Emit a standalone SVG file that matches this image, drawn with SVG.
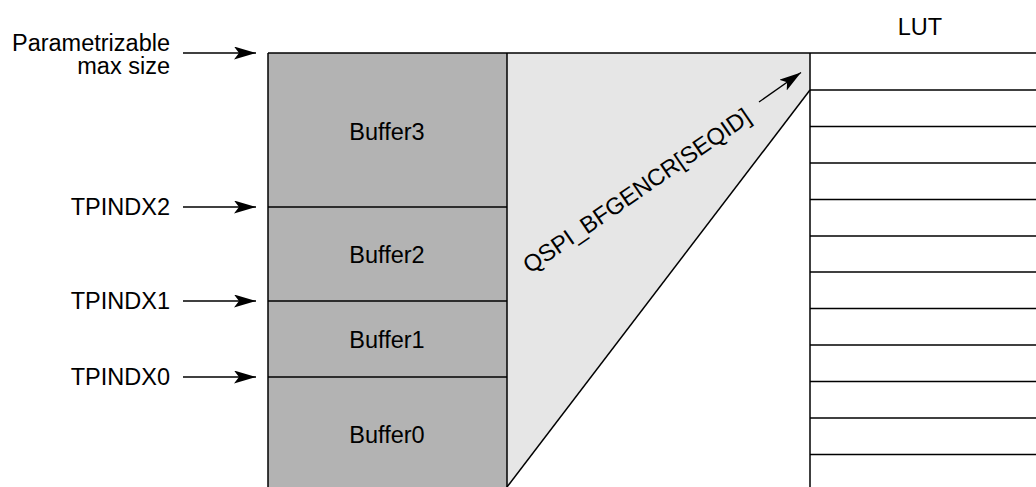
<svg xmlns="http://www.w3.org/2000/svg" width="1036" height="487" viewBox="0 0 1036 487">
<style>
text{font-family:"Liberation Sans",Arial,sans-serif;font-size:23.5px;fill:#000}
.ln{stroke:#000;stroke-width:1.5;fill:none}
.arr{stroke:#000;stroke-width:1.3;fill:none;marker-end:url(#ah)}
</style>
<defs>
<marker id="ah" markerUnits="userSpaceOnUse" markerWidth="24" markerHeight="14" refX="22" refY="6.5" orient="auto">
<path d="M0,0 L22,6.5 L0,13 L5,6.5 z" fill="#000"/>
</marker>
</defs>
<rect width="1036" height="487" fill="#fff"/>
<g id="lightregion">
<polygon points="507,53 810,53 810,90 507,487" fill="#e6e6e6"/>
</g>
<g id="buffer3"><rect x="268" y="53" width="239" height="154" fill="#b3b3b3"/><text x="387" y="139.5" text-anchor="middle">Buffer3</text></g>
<g id="buffer2"><rect x="268" y="207" width="239" height="94" fill="#b3b3b3"/><text x="387" y="262.5" text-anchor="middle">Buffer2</text></g>
<g id="buffer1"><rect x="268" y="301" width="239" height="76" fill="#b3b3b3"/><text x="387" y="347.5" text-anchor="middle">Buffer1</text></g>
<g id="buffer0"><rect x="268" y="377" width="239" height="112" fill="#b3b3b3"/><text x="387" y="443" text-anchor="middle">Buffer0</text></g>
<g id="frame">
<line class="ln" x1="268" y1="53" x2="1036" y2="53" stroke="#333"/>
<line class="ln" x1="268" y1="53" x2="268" y2="487"/>
<line class="ln" x1="507" y1="53" x2="507" y2="487"/>
<line class="ln" x1="268" y1="207" x2="507" y2="207"/>
<line class="ln" x1="268" y1="301" x2="507" y2="301"/>
<line class="ln" x1="268" y1="377" x2="507" y2="377"/>
<line class="ln" x1="810" y1="90" x2="507" y2="487" stroke-width="1.2"/>
</g>
<g id="lut">
<text x="920" y="35" text-anchor="middle">LUT</text>
<line class="ln" x1="810" y1="53" x2="810" y2="487"/>
<line class="ln" x1="810" y1="90" x2="1036" y2="90"/>
<line class="ln" x1="810" y1="126.5" x2="1036" y2="126.5"/>
<line class="ln" x1="810" y1="163" x2="1036" y2="163"/>
<line class="ln" x1="810" y1="199.5" x2="1036" y2="199.5"/>
<line class="ln" x1="810" y1="236" x2="1036" y2="236"/>
<line class="ln" x1="810" y1="272" x2="1036" y2="272"/>
<line class="ln" x1="810" y1="308.5" x2="1036" y2="308.5"/>
<line class="ln" x1="810" y1="345" x2="1036" y2="345"/>
<line class="ln" x1="810" y1="381.5" x2="1036" y2="381.5"/>
<line class="ln" x1="810" y1="418" x2="1036" y2="418"/>
<line class="ln" x1="810" y1="454.5" x2="1036" y2="454.5"/>
</g>
<g id="labels">
<text x="170" y="50.5" text-anchor="end">Parametrizable</text>
<text x="170" y="73.5" text-anchor="end">max size</text>
<text x="170" y="215" text-anchor="end">TPINDX2</text>
<text x="170" y="309" text-anchor="end">TPINDX1</text>
<text x="170" y="385" text-anchor="end">TPINDX0</text>
<text transform="translate(530,274) rotate(-34.6)">QSPI_BFGENCR[SEQID]</text>
</g>
<g id="connectors">
<line class="arr" x1="183" y1="53" x2="256" y2="53"/>
<line class="arr" x1="183" y1="207" x2="256" y2="207"/>
<line class="arr" x1="183" y1="301" x2="256" y2="301"/>
<line class="arr" x1="183" y1="377" x2="256" y2="377"/>
<line class="arr" x1="759" y1="102" x2="801" y2="72.5"/>
</g>
</svg>
